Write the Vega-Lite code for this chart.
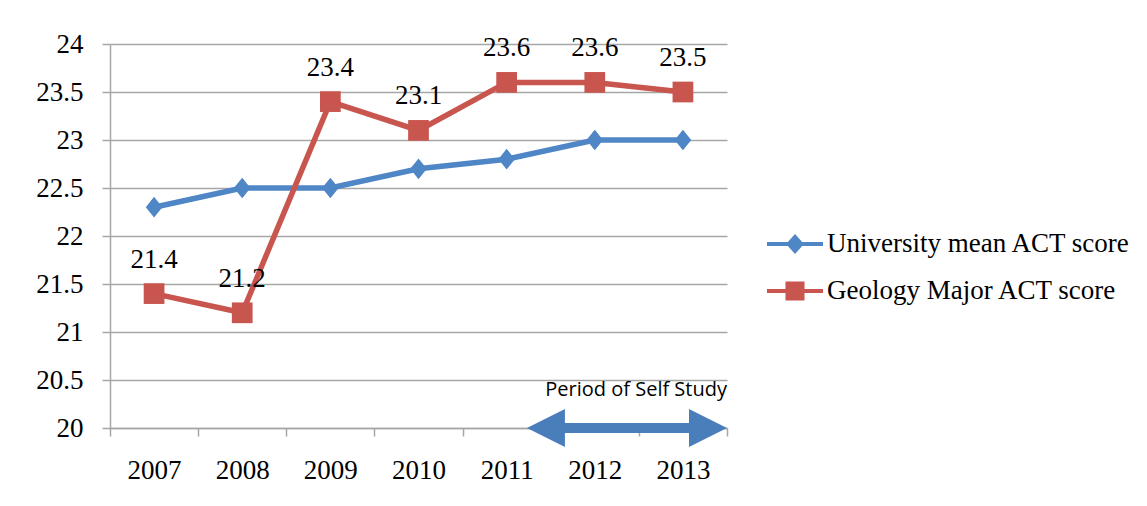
{
  "$schema": "https://vega.github.io/schema/vega-lite/v6.json",
  "autosize": {"type": "none"},
  "width": 617,
  "height": 384,
  "padding": {"left": 110, "top": 44, "right": 420, "bottom": 78},
  "background": "white",
  "config": {
    "view": {"stroke": null},
    "font": "Liberation Serif"
  },
  "datasets": {
    "scores": [
      {"year": "2007", "series": "University mean ACT score", "score": 22.3},
      {"year": "2008", "series": "University mean ACT score", "score": 22.5},
      {"year": "2009", "series": "University mean ACT score", "score": 22.5},
      {"year": "2010", "series": "University mean ACT score", "score": 22.7},
      {"year": "2011", "series": "University mean ACT score", "score": 22.8},
      {"year": "2012", "series": "University mean ACT score", "score": 23.0},
      {"year": "2013", "series": "University mean ACT score", "score": 23.0},
      {"year": "2007", "series": "Geology Major ACT score", "score": 21.4},
      {"year": "2008", "series": "Geology Major ACT score", "score": 21.2},
      {"year": "2009", "series": "Geology Major ACT score", "score": 23.4},
      {"year": "2010", "series": "Geology Major ACT score", "score": 23.1},
      {"year": "2011", "series": "Geology Major ACT score", "score": 23.6},
      {"year": "2012", "series": "Geology Major ACT score", "score": 23.6},
      {"year": "2013", "series": "Geology Major ACT score", "score": 23.5}
    ],
    "period": [
      {"start": 2011.23, "end": 2013.5, "label": "Period of Self Study"}
    ]
  },
  "layer": [
    {
      "data": {"name": "scores"},
      "encoding": {
        "x": {
          "field": "year", "type": "ordinal", "title": null,
          "scale": {"type": "band", "paddingInner": 0, "paddingOuter": 0},
          "axis": {
            "tickBand": "extent", "labelAngle": 0, "labelFont": "Liberation Serif", "labelFontSize": 27,
            "labelColor": "#000000", "labelPadding": 21, "tickSize": 8, "domainColor": "#A6A6A6",
            "tickColor": "#A6A6A6", "domainWidth": 1.5, "tickWidth": 1.5, "grid": false
          }
        },
        "y": {
          "field": "score", "type": "quantitative", "title": null,
          "scale": {"domain": [20, 24], "nice": false, "zero": false},
          "axis": {
            "values": [20, 20.5, 21, 21.5, 22, 22.5, 23, 23.5, 24], "format": ".1~f",
            "labelFont": "Liberation Serif", "labelFontSize": 27, "labelColor": "#000000",
            "labelPadding": 19, "tickSize": 8, "domainColor": "#A6A6A6", "tickColor": "#A6A6A6",
            "domainWidth": 1.5, "tickWidth": 1.5, "grid": true, "gridColor": "#A6A6A6", "gridWidth": 1.5
          }
        }
      },
      "layer": [
        {
          "mark": {"type": "line", "strokeWidth": 5.5},
          "encoding": {
            "color": {
              "field": "series", "type": "nominal",
              "scale": {"domain": ["University mean ACT score", "Geology Major ACT score"], "range": ["#4F86C6", "#C9554F"]},
              "legend": {
                "title": null, "orient": "none", "legendX": 671, "legendY": 186,
                "symbolSize": 784, "symbolStrokeWidth": 0, "symbolOpacity": 1, "labelOffset": 18, "rowPadding": 20,
                "labelFont": "Liberation Serif", "labelFontSize": 27, "labelColor": "#000000", "labelLimit": 500
              }
            }
          }
        },
        {
          "transform": [{"filter": "datum.series === 'University mean ACT score'"}],
          "mark": {"type": "point", "filled": true, "opacity": 1, "size": 430, "shape": "M0,-1L0.8,0L0,1L-0.8,0Z", "color": "#4F86C6"}
        },
        {
          "transform": [{"filter": "datum.series === 'Geology Major ACT score'"}],
          "mark": {"type": "point", "filled": true, "opacity": 1, "size": 430, "shape": "square", "color": "#C9554F"}
        },
        {
          "transform": [{"filter": "false"}],
          "mark": {"type": "point", "filled": true, "opacity": 1},
          "encoding": {
            "color": {"field": "series", "type": "nominal"},
            "shape": {
              "field": "series", "type": "nominal",
              "scale": {
                "domain": ["University mean ACT score", "Geology Major ACT score"],
                "range": ["M-2,-0.15H2V0.15H-2ZM0,-0.71L0.64,0L0,0.71L-0.64,0Z", "M-2,-0.15H2V0.15H-2ZM-0.68,-0.68H0.68V0.68H-0.68Z"]
              }
            }
          }
        },
        {
          "transform": [{"filter": "datum.series === 'Geology Major ACT score'"}],
          "mark": {"type": "text", "baseline": "alphabetic", "dy": -26, "font": "Liberation Serif", "fontSize": 27, "color": "#000000"},
          "encoding": {"text": {"field": "score", "type": "quantitative", "format": ".1f"}}
        }
      ]
    },
    {
      "data": {"name": "period"},
      "encoding": {
        "y": {"datum": 20, "type": "quantitative"}
      },
      "layer": [
        {
          "mark": {"type": "rule", "strokeWidth": 10, "color": "#4A7EBB", "xOffset": 15, "x2Offset": -15},
          "encoding": {
            "x": {"field": "start", "type": "quantitative", "scale": {"domain": [2006.5, 2013.5], "nice": false, "zero": false}, "axis": null},
            "x2": {"field": "end"}
          }
        },
        {
          "mark": {"type": "point", "filled": true, "opacity": 1, "size": 1444, "shape": "M0,0L2,-1L2,1Z", "color": "#4A7EBB"},
          "encoding": {
            "x": {"field": "start", "type": "quantitative", "scale": {"domain": [2006.5, 2013.5], "nice": false, "zero": false}, "axis": null}
          }
        },
        {
          "mark": {"type": "point", "filled": true, "opacity": 1, "size": 1444, "shape": "M0,0L-2,-1L-2,1Z", "color": "#4A7EBB"},
          "encoding": {
            "x": {"field": "end", "type": "quantitative", "scale": {"domain": [2006.5, 2013.5], "nice": false, "zero": false}, "axis": null}
          }
        },
        {
          "mark": {"type": "text", "align": "right", "baseline": "alphabetic", "font": "Open Sans", "fontSize": 20, "color": "#000000"},
          "encoding": {
            "x": {"field": "end", "type": "quantitative", "scale": {"domain": [2006.5, 2013.5], "nice": false, "zero": false}, "axis": null},
            "y": {"datum": 20.333, "type": "quantitative"},
            "text": {"field": "label"}
          }
        }
      ]
    }
  ],
  "resolve": {"scale": {"x": "independent"}}
}
